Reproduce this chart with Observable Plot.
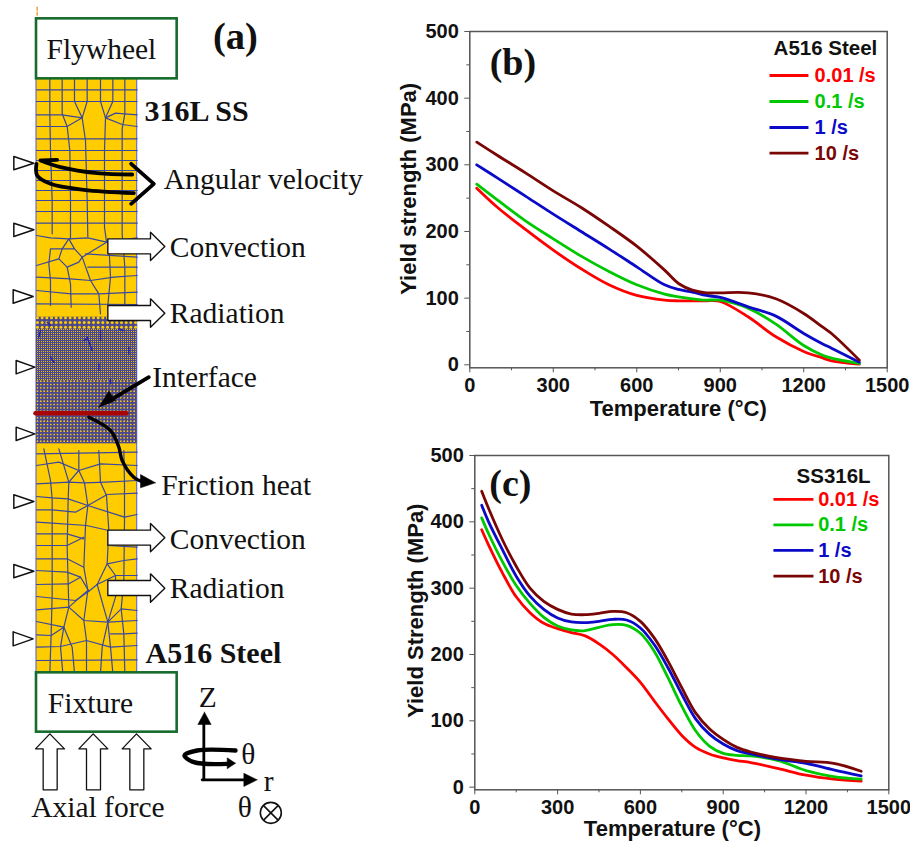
<!DOCTYPE html>
<html>
<head>
<meta charset="utf-8">
<script src="https://cdn.jsdelivr.net/npm/d3@7"></script>
<script src="https://cdn.jsdelivr.net/npm/@observablehq/plot@0.6"></script>
<style>
html,body{margin:0;padding:0;background:#fff}
#page{position:relative;width:910px;height:841px;overflow:hidden}
#page>svg{position:absolute;background:transparent}
</style>
</head>
<body>
<div id="page"></div>
<script>
// ---------- panel (b): A516 steel ----------
const tempB = [25,100,200,300,400,500,600,700,750,800,850,900,1000,1100,1200,1270,1300,1400];
const b001 = [265,236,203,172,144,120,104,97,96,96,96,95,72,42,20,10,6,1];
const b01  = [271,247,216,189,163,140,120,106,102,99,97,97,85,61,29,14,10,2];
const b1   = [300,280,253,226,200,174,147,120,113,109,104,101,87,73,47,31,25,4];
const b10  = [334,314,288,261,236,208,178,142,122,112,108,108,108,99,77,56,47,7];
// ---------- panel (c): SS316L ----------
const tempC = [25,50,100,150,200,250,300,350,400,450,500,550,600,650,700,750,800,850,900,950,1000,1100,1200,1300,1400];
const c001 = [388,365,323,287,263,247,239,233,228,216,200,180,158,130,103,78,60,50,44,40,37,28,18,12,9];
const c01  = [406,382,340,304,277,256,243,237,236,241,245,244,232,205,165,122,85,62,51,48,47,40,25,16,12];
const c1   = [425,400,358,318,288,268,255,249,248,250,253,252,240,215,180,140,103,80,65,55,50,42,36,26,17];
const c10  = [446,420,373,333,300,280,268,261,260,262,265,263,250,225,190,150,112,88,72,60,53,44,39,36,24];

const rateNames = ["0.01 /s","0.1 /s","1 /s","10 /s"];
const rateColors = ["#ff0000","#00c800","#0a0ac8","#7a0505"];
const xTicks = [0,300,600,900,1200,1500];
const xMinor = [150,450,750,1050,1350];
const yTicks = [0,100,200,300,400,500];
const yMinor = [50,150,250,350,450];
const legendYB = [434,395,356,317.5];
const legendYC = [434,395.5,357,318];

const SANS = "'Liberation Sans',Arial,sans-serif";
const SERIF = "'Liberation Serif','Times New Roman',serif";

function chart(cfg){
  const rows = cfg.series.flatMap((s,i)=>cfg.temp.map((t,j)=>({t,v:s[j],k:rateNames[i]})));
  const leg = rateNames.map((n,i)=>({n,c:rateColors[i],y:cfg.legendY[i]}));
  return Plot.plot({
    width:cfg.w,height:cfg.h,
    marginLeft:cfg.ml,marginRight:cfg.mr,marginTop:cfg.mt,marginBottom:cfg.mb,
    style:{fontFamily:SANS,fontSize:"20px",fontWeight:"bold",color:"#111",background:"transparent"},
    x:{domain:[0,1500]},
    y:{domain:[cfg.yMin,500]},
    color:{domain:rateNames,range:rateColors},
    marks:[
      Plot.axisX(xMinor,{tickSize:3,tickFormat:()=>"",label:null,stroke:"#555"}),
      Plot.axisY(yMinor,{tickSize:3,tickFormat:()=>"",label:null,stroke:"#555"}),
      Plot.axisX(xTicks,{tickSize:5,tickPadding:5,label:null,stroke:"#555",fill:"#111",tickFormat:d=>String(d)}),
      Plot.axisY(yTicks,{tickSize:5,tickPadding:6,label:null,stroke:"#555",fill:"#111",tickFormat:d=>String(d)}),
      Plot.frame({stroke:"#555",strokeWidth:1.5}),
      Plot.lineY(rows,{x:"t",y:"v",z:"k",stroke:"k",strokeWidth:2.8,curve:"catmull-rom"}),
      Plot.link(leg,{x1:()=>cfg.legX1,x2:()=>cfg.legX2,y1:"y",y2:"y",stroke:"c",strokeWidth:2.8}),
      Plot.text(leg,{x:()=>cfg.legTx,y:"y",text:"n",fill:"c",textAnchor:"start",fontSize:20}),
      Plot.text([cfg.legendTitle],{x:()=>cfg.titleX,y:()=>cfg.titleY,text:d=>d,fontSize:20.5,fill:"#111"}),
      Plot.text([cfg.tag],{x:()=>cfg.tagX,y:()=>cfg.tagY,text:d=>d,fontFamily:SERIF,fontSize:38,fill:"#111"}),
      Plot.text(["Temperature (°C)"],{x:()=>cfg.xlX,y:()=>cfg.xlY,text:d=>d,fontSize:22,fill:"#111"}),
      Plot.text([cfg.yLabel],{x:()=>cfg.ylX,y:()=>cfg.ylY,text:d=>d,rotate:-90,fontSize:22,fill:"#111"})
    ]
  });
}

// ---------- panel (a): schematic, in units of one third of a reference pixel ----------
const columnBox = [{x1:108,x2:410,y1:235,y2:2017}];
const fineZone = [{x1:108,x2:410,y1:950,y2:1330}];
const holderBoxes = [{x1:108,x2:530,y1:55,y2:235},{x1:108,x2:530,y1:2017,y2:2195}];
const meshTop = [
 [148,235,148,340,150,450,155,600,155,700],[185,235,185,340,200,378,208,450,210,600,210,715],
 [222,235,222,303,245,352],[260,235,260,303,245,352,255,420,260,600,262,708],
 [300,235,300,303,315,352],[337,235,337,303,315,352,312,450,312,680,318,725],
 [373,235,373,340,365,385,365,600,365,700,373,800,373,920],
 [108,268,410,268],[108,303,410,303],[108,343,185,343,245,352],[315,352,345,338,410,343],
 [108,378,200,378,245,352],[315,352,365,372,410,378],[108,415,410,415],[108,450,410,450],
 [108,480,410,480],[108,510,410,510],[108,540,410,540],[108,570,410,570],[108,600,410,600],
 [108,633,410,633],[108,668,410,668],
 [108,705,150,712,205,715,262,712,318,725,410,712],[205,715,222,745,245,770,270,840,295,880,300,940],
 [318,725,245,770],[205,715,185,745,150,745,145,790,150,840,150,915],[185,745,222,745],
 [185,745,175,775,200,800,210,850,212,920],[200,800,235,785,245,770],[108,795,175,775],
 [108,830,210,835,270,840,340,830,410,825],[108,870,212,880,295,880,410,875],[108,910,410,912],
 [255,760,410,770],[262,800,410,800],[325,730,330,830,322,915]
];
const meshBottom = [
 [148,757,152,640,155,520,155,380,155,235,150,180,130,85],[187,757,180,680,190,620,205,560,200,380,203,235,205,185,175,85],
 [222,757,215,680,190,620],[258,757,258,660,250,600,262,510,250,440,255,315,262,255],
 [300,757,305,680,322,605,345,530,345,465],[337,757,330,680,322,605],
 [373,757,370,640,362,565,370,480,372,300,372,190,370,90],[290,492,322,605],
 [290,492,320,430,325,330,318,225,300,185,295,90],[262,510,222,545,205,560],[290,492,265,512,240,470,205,490],
 [235,90,235,150,205,185],[235,150,252,187,262,255],[108,135,175,125,235,150,300,130,410,135],[108,100,410,95],
 [108,190,205,185,252,187,315,185,410,180],[108,228,155,232,203,235,262,255,320,222,410,218],
 [108,268,155,268,225,275,262,255,372,290,410,282],[108,305,155,308,258,315,325,330,410,330],
 [108,340,200,340,250,355],[108,375,200,375,250,350],[322,375,410,380],[108,415,200,415,250,440],
 [320,430,370,420,410,415],[108,450,200,455,240,470],[108,492,205,490],[345,465,410,465],[290,492,345,465,320,430],
 [108,528,225,540,265,512],[108,568,205,560,250,600,322,605,362,565,410,570],[108,603,190,620],[322,605,410,600],
 [108,643,152,645,190,620],[330,640,370,640,410,638],[108,680,180,678,258,660,330,680,410,675],[108,720,410,718]
];
const BOTTOM_OFFSET = 1260;
const fineBands = [[950,985,14,1.5],[985,1140,6,0.55],[1140,1330,10,0.85]];
const fineDarkCells = [[260,1010,275,1050],[300,990,300,1020],[385,1040,385,1060],[150,1070,160,1085],[295,1090,295,1110],
 [330,1135,330,1150],[120,990,115,1010],[355,985,370,990],[140,965,150,975],[260,1015,250,1020]];
const triangles = [[40,468,100,488,40,508],[40,668,100,688,40,708],[38,868,98,888,38,908],[47,1080,103,1100,47,1120],
 [47,1280,103,1300,47,1320],[40,1483,100,1503,40,1523],[40,1692,100,1712,40,1732],[38,1894,98,1915,38,1936]];
const heatArrowY = [738,938,1612,1763];
const heatArrowShape = [322,-23,450,-23,450,-43,493,0,450,42,450,22,322,22,322,-23];
const forceArrowX = [148,278,408];
const forceArrowShape = [-20,2368,-20,2245,-43,2245,0,2200,44,2245,22,2245,22,2368,-20,2368];
const curvedLines = [
 [120,480,180,500,290,518,395,522],[108,490,110,525,150,550,250,568,400,578]
];
const straightLines = [[392,490,460,550,392,610],[125,480,170,478],[445,1130,320,1205]];
const frictionCurve = [[265,1250,330,1290,355,1340,365,1380,400,1430,430,1445]];
const axisLines = [[610,2170,610,2338],[605,2338,740,2338]];
const swirl = [[705,2250,590,2250,552,2265,580,2285,680,2290]];
const solidHeads = [[295,1220,345,1200,325,1172,295,1220],[465,1447,420,1422,420,1462,465,1447],
 [612,2135,592,2172,632,2172,612,2135],[770,2338,730,2318,730,2358,770,2338],[705,2288,680,2272,680,2305,705,2288]];
const crossCircle = [{x:811,y:2437}];
const crossStrokes = [[790,2416,832,2458],[832,2416,790,2458]];
const serifLabels = [
 ["Flywheel",138,175],["Angular velocity",490,565],["Convection",508,770],["Radiation",508,967],["Interface",455,1160],
 ["Friction heat",482,1482],["Convection",508,1645],["Radiation",508,1793],["Fixture",142,2137],["Z",595,2120],
 ["θ",722,2290],["r",790,2370],["Axial force",92,2450],["θ",712,2450]
];
const boldLabels = [["316L SS",432,360],["A516 Steel",435,1987]];

function pts(lines,dy=0){
  return lines.flatMap((l,id)=>d3.range(0,l.length,2).map(i=>({id,x:l[i],y:l[i+1]+dy})));
}
function band([y0,y1,step,r]){
  const xs=d3.range(111,410,step), ys=d3.range(y0+2,y1,step);
  return Plot.dot(d3.cross(xs,ys),{x:d=>d[0],y:d=>d[1],r,fill:"#ffcc00",stroke:null});
}
const heatArrows = heatArrowY.flatMap((c,id)=>d3.range(0,heatArrowShape.length,2).map(i=>({id,x:heatArrowShape[i],y:heatArrowShape[i+1]+c})));
const forceArrows = forceArrowX.flatMap((c,id)=>d3.range(0,forceArrowShape.length,2).map(i=>({id,x:forceArrowShape[i]+c,y:forceArrowShape[i+1]})));

const schematic = Plot.plot({
  width:370,height:841,margin:0,
  style:{background:"transparent"},
  x:{domain:[0,1110],axis:null},
  y:{domain:[2523,0],axis:null},
  marks:[
    Plot.line(pts([[110,20,110,50]]),{x:"x",y:"y",z:"id",stroke:"#f0a040",strokeWidth:1.5,strokeDasharray:"3 2"}),
    Plot.rect(columnBox,{x1:"x1",x2:"x2",y1:"y1",y2:"y2",fill:"#ffcc00",stroke:"#6a70c8",strokeWidth:1.2}),
    Plot.line(pts(meshTop),{x:"x",y:"y",z:"id",stroke:"#3a48a0",strokeWidth:1.2}),
    Plot.line(pts(meshBottom,BOTTOM_OFFSET),{x:"x",y:"y",z:"id",stroke:"#3a48a0",strokeWidth:1.2}),
    Plot.rect(fineZone,{x1:"x1",x2:"x2",y1:"y1",y2:"y2",fill:"#4a4890"}),
    ...fineBands.map(band),
    Plot.line(pts(fineDarkCells),{x:"x",y:"y",z:"id",stroke:"#2020b0",strokeWidth:1.4}),
    Plot.rect(holderBoxes,{x1:"x1",x2:"x2",y1:"y1",y2:"y2",fill:"white",stroke:"#176b2c",strokeWidth:2.6}),
    Plot.line(pts(triangles.map(t=>[...t,t[0],t[1]])),{x:"x",y:"y",z:"id",stroke:"#111",strokeWidth:1.5,fill:"white"}),
    Plot.line(pts([[105,1238,378,1238]]),{x:"x",y:"y",z:"id",stroke:"#aa0505",strokeWidth:4.5}),
    Plot.line(heatArrows,{x:"x",y:"y",z:"id",stroke:"#111",strokeWidth:1.4,fill:"white"}),
    Plot.line(forceArrows,{x:"x",y:"y",z:"id",stroke:"#111",strokeWidth:1.3,fill:"white"}),
    Plot.line(pts(curvedLines),{x:"x",y:"y",z:"id",stroke:"#000",strokeWidth:3.8,curve:"catmull-rom"}),
    Plot.line(pts(straightLines),{x:"x",y:"y",z:"id",stroke:"#000",strokeWidth:3.8}),
    Plot.line(pts(frictionCurve),{x:"x",y:"y",z:"id",stroke:"#000",strokeWidth:3.4,curve:"catmull-rom"}),
    Plot.line(pts(axisLines),{x:"x",y:"y",z:"id",stroke:"#000",strokeWidth:2.8}),
    Plot.line(pts(swirl),{x:"x",y:"y",z:"id",stroke:"#000",strokeWidth:4.4,curve:"catmull-rom"}),
    Plot.line(pts(solidHeads),{x:"x",y:"y",z:"id",fill:"#000",stroke:"#000",strokeWidth:0.5}),
    Plot.dot(crossCircle,{x:"x",y:"y",r:10.5,stroke:"#111",strokeWidth:1.6,fill:"white"}),
    Plot.line(pts(crossStrokes),{x:"x",y:"y",z:"id",stroke:"#111",strokeWidth:1.6}),
    Plot.text(serifLabels,{x:d=>d[1],y:d=>d[2],text:d=>d[0],textAnchor:"start",lineAnchor:"bottom",fontFamily:SERIF,fontSize:29.5,fill:"#111"}),
    Plot.text(boldLabels,{x:d=>d[1],y:d=>d[2],text:d=>d[0],textAnchor:"start",lineAnchor:"bottom",fontFamily:SERIF,fontWeight:"bold",fontSize:30,fill:"#111"}),
    Plot.text(["(a)"],{x:()=>705,y:()=>145,text:d=>d,lineAnchor:"bottom",fontFamily:SERIF,fontWeight:"bold",fontSize:38.5,fill:"#111"})
  ]
});

const chartB = chart({
  w:520,h:420,ml:79.3,mr:23.3,mt:16,mb:67.7,yMin:-4.5,
  temp:tempB,series:[b001,b01,b1,b10],legendY:legendYB,
  legX1:1077,legX2:1217,legTx:1239,legendTitle:"A516 Steel",titleX:1278,titleY:474,
  tag:"(b)",tagX:155,tagY:453,xlX:749,xlY:-66,yLabel:"Yield strength (MPa)",ylX:-220,ylY:264
});
const chartC = chart({
  w:520,h:401,ml:84.3,mr:21.7,mt:15,mb:51.7,yMin:-4,
  temp:tempC,series:[c001,c01,c1,c10],legendY:legendYC,
  legX1:1082,legX2:1227,legTx:1244,legendTitle:"SS316L",titleX:1300,titleY:468,
  tag:"(c)",tagX:129,tagY:457,xlX:716,xlY:-63,yLabel:"Yield Strength (MPa)",ylX:-215,ylY:266
});

const page = document.getElementById("page");
[[schematic,0,0],[chartB,390,15],[chartC,390,440]].forEach(([svg,l,t])=>{
  svg.style.left=l+"px"; svg.style.top=t+"px"; page.appendChild(svg);
});
</script>
</body>
</html>
